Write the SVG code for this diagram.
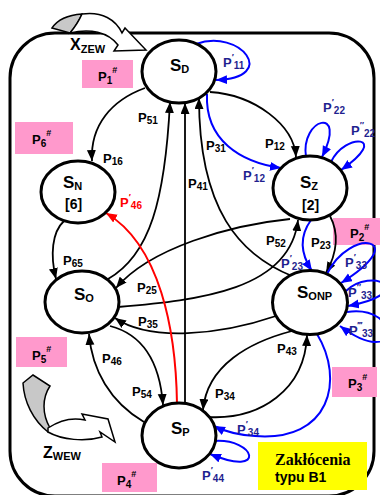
<svg xmlns="http://www.w3.org/2000/svg" width="380" height="495" viewBox="0 0 380 495">
<style>
.nd{fill:#fff;stroke:#000;stroke-width:3}
.e{fill:none;stroke:#000;stroke-width:1.8}
.b{fill:none;stroke:#0000ff;stroke-width:2}
.r{fill:none;stroke:#ff0000;stroke-width:2}
.pk{fill:#ff99cc}
text{font-family:"Liberation Sans",Arial,sans-serif;font-weight:bold;fill:#000}
.s{font-size:17px}
.ss{font-size:11px}
.lb{font-size:13px}
.sb{font-size:10px}
.pr{font-size:9px}
.nv{fill:#1f1f8f}
.rd{fill:#ff0000}
</style>
<defs>
<marker id="ak" markerUnits="userSpaceOnUse" markerWidth="12" markerHeight="10" refX="11" refY="4.5" orient="auto"><path d="M0,0 L11,4.5 L0,9 Z" fill="#000"/></marker>
<marker id="ab" markerUnits="userSpaceOnUse" markerWidth="12" markerHeight="10" refX="11" refY="4.5" orient="auto"><path d="M0,0 L11,4.5 L0,9 Z" fill="#0000ff"/></marker>
<marker id="ar" markerUnits="userSpaceOnUse" markerWidth="12" markerHeight="10" refX="11" refY="4.5" orient="auto"><path d="M0,0 L11,4.5 L0,9 Z" fill="#ff0000"/></marker>
</defs>
<rect x="10" y="33" width="364" height="463" rx="45" ry="45" fill="none" stroke="#000" stroke-width="3"/>
<g id="x-zew">
<path d="M52,28 C58,19 68,15 82,14 C79,21 75,27 70,33 Z" fill="#c8c8c8" stroke="#000" stroke-width="1.5"/>
<path d="M82,14 C102,11 116,20 122,33 L125,28 L146,50 L114,51 L118,45 C108,32 90,28 70,33 C75,27 79,21 82,14 Z" fill="#fff" stroke="#000" stroke-width="1.5"/>
<text x="70" y="50" style="font-size:16px">X<tspan style="font-size:11px" dy="3">ZEW</tspan></text>
</g>
<g id="z-wew">
<path d="M23,383 L33,375 L50,386 C42,398 42,414 50,428 L48,432 C33,420 24,402 23,383 Z" fill="#c8c8c8" stroke="#000" stroke-width="1.5"/>
<path d="M48,428 C60,420 72,417 85,420 L82,414 L108,419 L115,442 L100,432 L102,437 C85,442 62,440 48,432 Z" fill="#fff" stroke="#000" stroke-width="1.5"/>
<text x="43" y="458" style="font-size:16px">Z<tspan style="font-size:11px" dy="2">WEW</tspan></text>
</g>
<g id="pink-boxes">
<rect class="pk" x="82" y="60" width="51" height="28"/>
<rect class="pk" x="15" y="122" width="58" height="32"/>
<rect class="pk" x="333" y="218" width="47" height="27"/>
<rect class="pk" x="16" y="337" width="51" height="30"/>
<rect class="pk" x="332" y="367" width="45" height="30"/>
<rect class="pk" x="102" y="463" width="55" height="29"/>
<text x="98" y="81" class="lb">P<tspan class="sb" dy="3">1</tspan><tspan class="pr" dy="-11">#</tspan></text>
<text x="32" y="144" class="lb">P<tspan class="sb" dy="3">6</tspan><tspan class="pr" dy="-11">#</tspan></text>
<text x="350" y="238" class="lb">P<tspan class="sb" dy="3">2</tspan><tspan class="pr" dy="-11">#</tspan></text>
<text x="32" y="360" class="lb">P<tspan class="sb" dy="3">5</tspan><tspan class="pr" dy="-11">#</tspan></text>
<text x="348" y="388" class="lb">P<tspan class="sb" dy="3">3</tspan><tspan class="pr" dy="-11">#</tspan></text>
<text x="117" y="485" class="lb">P<tspan class="sb" dy="3">4</tspan><tspan class="pr" dy="-11">#</tspan></text>
</g>
<g id="legend">
<rect x="258" y="442" width="109" height="48" fill="#ffff00"/>
<text x="275" y="465" style="font-family:'Liberation Serif','Times New Roman',serif;font-size:16px">Zakłócenia</text>
<text x="275" y="482" style="font-size:14px">typu B1</text>
</g>
<g id="connectors">
<path class="e" d="M145,88 C112,100 90,125 92,161" marker-end="url(#ak)"/>
<path class="e" d="M108,279 C150,255 165,200 170,102" marker-end="url(#ak)"/>
<path class="e" d="M185,404 L185,103" marker-end="url(#ak)"/>
<path class="e" d="M292,276 C240,255 199,210 199,98" marker-end="url(#ak)"/>
<path class="e" d="M210,92 C255,95 294,125 296,157" marker-end="url(#ak)"/>
<path class="e" d="M64,221 C52,232 50,255 56,279" marker-end="url(#ak)"/>
<path class="e" d="M290,219 C230,225 150,248 116,288" marker-end="url(#ak)"/>
<path class="e" d="M118,307 C200,300 290,290 298,220" marker-end="url(#ak)"/>
<path class="e" d="M276,316 C220,335 150,342 115,318" marker-end="url(#ak)"/>
<path class="e" d="M330,216 C340,235 336,255 326,273" marker-end="url(#ak)"/>
<path class="e" d="M144,422 C110,402 92,370 89,334" marker-end="url(#ak)"/>
<path class="e" d="M110,326 C145,335 160,365 163,405" marker-end="url(#ak)"/>
<path class="e" d="M292,331 C250,342 207,365 203,410" marker-end="url(#ak)"/>
<path class="e" d="M208,417 C260,420 305,390 307,335" marker-end="url(#ak)"/>
<path class="r" d="M177,404 C176,330 160,245 106,213" marker-end="url(#ar)"/>
<path class="b" d="M207,94 C205,140 240,162 281,168" marker-end="url(#ab)"/>
<path class="b" d="M311,220 C298,238 302,256 312,271" marker-end="url(#ab)"/>
<path class="b" d="M196,44 C240,28 280,78 216,80" marker-end="url(#ab)"/>
<path class="b" d="M306,157 C300,118 348,105 322,157" marker-end="url(#ab)"/>
<path class="b" d="M331,162 C345,132 392,135 341,170" marker-end="url(#ab)"/>
<path class="b" d="M327,274 C350,226 414,238 341,283" marker-end="url(#ab)"/>
<path class="b" d="M346,291 C372,266 420,292 348,306" marker-end="url(#ab)"/>
<path class="b" d="M347,312 C402,304 402,372 340,326" marker-end="url(#ab)"/>
<path class="b" d="M317,334 C345,380 330,442 255,436 C238,435 226,432 214,426" marker-end="url(#ab)"/>
<path class="b" d="M214,441 C255,438 268,478 210,454" marker-end="url(#ab)"/>
</g>
<g id="node-sd"><ellipse class="nd" cx="179" cy="71.5" rx="37" ry="31.5"/><text x="170" y="71" class="s">S<tspan class="ss" dy="2">D</tspan></text></g>
<g id="node-sn"><ellipse class="nd" cx="78" cy="192" rx="37" ry="31"/><text x="63" y="188" class="s">S<tspan class="ss" dy="2">N</tspan></text><text x="65" y="209" style="font-size:14px">[6]</text></g>
<g id="node-sz"><ellipse class="nd" cx="310" cy="188" rx="37" ry="32"/><text x="300" y="188" class="s">S<tspan class="ss" dy="2">Z</tspan></text><text x="302" y="210" style="font-size:14px">[2]</text></g>
<g id="node-so"><ellipse class="nd" cx="82" cy="302" rx="37" ry="31"/><text x="74" y="300" class="s">S<tspan class="ss" dy="2">O</tspan></text></g>
<g id="node-sonp"><ellipse class="nd" cx="310" cy="302.5" rx="37.5" ry="32"/><text x="297" y="298" class="s">S<tspan class="ss" dy="2">ONP</tspan></text></g>
<g id="node-sp"><ellipse class="nd" cx="179" cy="435.5" rx="37" ry="32.5"/><text x="171" y="434" class="s">S<tspan class="ss" dy="2">P</tspan></text></g>
<g id="labels">
<text x="138" y="122" class="lb">P<tspan class="sb" dy="2">51</tspan></text>
<text x="103" y="163" class="lb">P<tspan class="sb" dy="2">16</tspan></text>
<text x="63" y="265" class="lb">P<tspan class="sb" dy="2">65</tspan></text>
<text x="137" y="292" class="lb">P<tspan class="sb" dy="2">25</tspan></text>
<text x="138" y="326" class="lb">P<tspan class="sb" dy="2">35</tspan></text>
<text x="102" y="363" class="lb">P<tspan class="sb" dy="2">46</tspan></text>
<text x="132" y="396" class="lb">P<tspan class="sb" dy="2">54</tspan></text>
<text x="215" y="398" class="lb">P<tspan class="sb" dy="2">34</tspan></text>
<text x="277" y="353" class="lb">P<tspan class="sb" dy="2">43</tspan></text>
<text x="311" y="247" class="lb">P<tspan class="sb" dy="2">23</tspan></text>
<text x="266" y="245" class="lb">P<tspan class="sb" dy="2">52</tspan></text>
<text x="265" y="148" class="lb">P<tspan class="sb" dy="2">12</tspan></text>
<text x="206" y="150" class="lb">P<tspan class="sb" dy="2">31</tspan></text>
<text x="188" y="188" class="lb">P<tspan class="sb" dy="2">41</tspan></text>
<text x="120" y="207" class="lb rd">P<tspan class="pr" dy="-7">′</tspan><tspan class="sb" dy="9">46</tspan></text>
<text x="223" y="67" class="lb nv">P<tspan class="pr" dy="-7">′</tspan><tspan class="sb" dy="9">11</tspan></text>
<text x="243" y="180" class="lb nv">P<tspan class="pr" dy="-7">′</tspan><tspan class="sb" dy="9">12</tspan></text>
<text x="323" y="112" class="lb nv">P<tspan class="pr" dy="-7">′</tspan><tspan class="sb" dy="9">22</tspan></text>
<text x="351" y="135" class="lb nv">P<tspan class="pr" dy="-7">″</tspan><tspan class="sb" dy="9">22</tspan></text>
<text x="281" y="268" class="lb nv">P<tspan class="pr" dy="-7">′</tspan><tspan class="sb" dy="9">23</tspan></text>
<text x="345" y="267" class="lb nv">P<tspan class="pr" dy="-7">′</tspan><tspan class="sb" dy="9">33</tspan></text>
<text x="348" y="297" class="lb nv">P<tspan class="pr" dy="-7">″</tspan><tspan class="sb" dy="9">33</tspan></text>
<text x="349" y="335" class="lb nv">P<tspan class="pr" dy="-7">‴</tspan><tspan class="sb" dy="9">33</tspan></text>
<text x="237" y="434" class="lb nv">P<tspan class="pr" dy="-7">′</tspan><tspan class="sb" dy="9">34</tspan></text>
<text x="202" y="480" class="lb nv">P<tspan class="pr" dy="-7">′</tspan><tspan class="sb" dy="9">44</tspan></text>
</g>
</svg>
